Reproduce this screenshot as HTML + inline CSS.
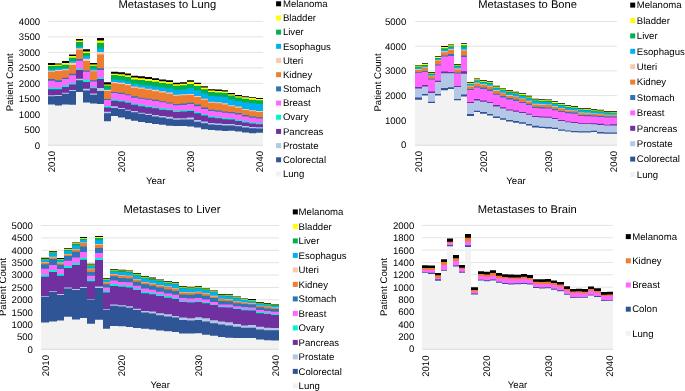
<!DOCTYPE html>
<html><head><meta charset="utf-8"><title>Metastases</title>
<style>
html,body{margin:0;padding:0;background:#fff;}
body{width:685px;height:391px;overflow:hidden;}
svg{display:block;font-family:"Liberation Sans",sans-serif;text-rendering:geometricPrecision;will-change:transform;}
.gl{stroke:#E3E3E3;stroke-width:1;}
.ax{stroke:#D9D9D9;stroke-width:1;}
.tk{font-size:9.6px;fill:#000;}
.lg{font-size:9.6px;fill:#000;}
.tt{font-size:11.2px;fill:#000;}
</style></head>
<body>
<svg width="685" height="391" viewBox="0 0 685 391">
<rect width="685" height="391" fill="#fff"/>
<line x1="48.3" y1="129.72" x2="263.13" y2="129.72" class="gl"/>
<line x1="48.3" y1="114.25" x2="263.13" y2="114.25" class="gl"/>
<line x1="48.3" y1="98.77" x2="263.13" y2="98.77" class="gl"/>
<line x1="48.3" y1="83.3" x2="263.13" y2="83.3" class="gl"/>
<line x1="48.3" y1="67.83" x2="263.13" y2="67.83" class="gl"/>
<line x1="48.3" y1="52.35" x2="263.13" y2="52.35" class="gl"/>
<line x1="48.3" y1="36.88" x2="263.13" y2="36.88" class="gl"/>
<line x1="48.3" y1="21.4" x2="263.13" y2="21.4" class="gl"/>
<text x="40.2" y="148.6" class="tk" text-anchor="end">0</text>
<text x="40.2" y="133.12" class="tk" text-anchor="end">500</text>
<text x="40.2" y="117.65" class="tk" text-anchor="end">1000</text>
<text x="40.2" y="102.17" class="tk" text-anchor="end">1500</text>
<text x="40.2" y="86.7" class="tk" text-anchor="end">2000</text>
<text x="40.2" y="71.23" class="tk" text-anchor="end">2500</text>
<text x="40.2" y="55.75" class="tk" text-anchor="end">3000</text>
<text x="40.2" y="40.27" class="tk" text-anchor="end">3500</text>
<text x="40.2" y="24.8" class="tk" text-anchor="end">4000</text>
<path d="M48,145 L48,63.1 55,63.1 55,63.4 62,63.4 62,61.1 69,61.1 69,54.4 76,54.4 76,38.9 83,38.9 83,49.3 90,49.3 90,63.1 97,63.1 97,38 104,38 104,82.2 111,82.2 111,71.7 118,71.7 118,72.2 125,72.2 125,73.5 131,73.5 131,75.8 138,75.8 138,76.3 145,76.3 145,77.1 152,77.1 152,78.2 159,78.2 159,79.4 166,79.4 166,80.2 173,80.2 173,82.7 180,82.7 180,82.2 187,82.2 187,80.2 194,80.2 194,82.7 201,82.7 201,86.3 208,86.3 208,89.2 215,89.2 215,89.6 222,89.6 222,90.2 228,90.2 228,93.1 235,93.1 235,95 242,95 242,96.3 249,96.3 249,97.2 256,97.2 256,98.1 263,98.1 L263,145 Z" fill="#000000"/>
<path d="M48,145 L48,65 55,65 55,64.5 62,64.5 62,62.9 69,62.9 69,56 76,56 76,40.6 83,40.6 83,51.4 90,51.4 90,64.5 97,64.5 97,40.6 104,40.6 104,84.4 111,84.4 111,73.8 118,73.8 118,74.3 125,74.3 125,75.3 131,75.3 131,77.6 138,77.6 138,78.2 145,78.2 145,78.9 152,78.9 152,79.9 159,79.9 159,81.2 166,81.2 166,82 173,82 173,84.3 180,84.3 180,83.8 187,83.8 187,81.7 194,81.7 194,84.1 201,84.1 201,87.6 208,87.6 208,90.6 215,90.6 215,90.9 222,90.9 222,91.4 228,91.4 228,94.3 235,94.3 235,96.2 242,96.2 242,97.2 249,97.2 249,98.1 256,98.1 256,99 263,99 L263,145 Z" fill="#FFFF00"/>
<path d="M48,145 L48,66 55,66 55,65.7 62,65.7 62,64.7 69,64.7 69,57.7 76,57.7 76,42.1 83,42.1 83,52.9 90,52.9 90,65.7 97,65.7 97,42.7 104,42.7 104,85.4 111,85.4 111,75.1 118,75.1 118,75.8 125,75.8 125,77.1 131,77.1 131,79.4 138,79.4 138,79.9 145,79.9 145,80.9 152,80.9 152,81.7 159,81.7 159,83 166,83 166,83.7 173,83.7 173,85.8 180,85.8 180,85.3 187,85.3 187,84.1 194,84.1 194,86.1 201,86.1 201,89.2 208,89.2 208,92 215,92 215,92.5 222,92.5 222,93 228,93 228,95.6 235,95.6 235,97.5 242,97.5 242,98.8 249,98.8 249,99.7 256,99.7 256,100.3 263,100.3 L263,145 Z" fill="#00B050"/>
<path d="M48,145 L48,69.3 55,69.3 55,68.2 62,68.2 62,67.9 69,67.9 69,61.1 76,61.1 76,46.7 83,46.7 83,56 90,56 90,68.8 97,68.8 97,48.8 104,48.8 104,89 111,89 111,79.6 118,79.6 118,80.2 125,80.2 125,81.4 131,81.4 131,83.7 138,83.7 138,84.7 145,84.7 145,85.5 152,85.5 152,86.6 159,86.6 159,87.6 166,87.6 166,88.4 173,88.4 173,89.9 180,89.9 180,89.6 187,89.6 187,88.2 194,88.2 194,90.6 201,90.6 201,93.5 208,93.5 208,96.1 215,96.1 215,96.4 222,96.4 222,97.1 228,97.1 228,99.5 235,99.5 235,101.3 242,101.3 242,102.5 249,102.5 249,103.3 256,103.3 256,104 263,104 L263,145 Z" fill="#00B0F0"/>
<path d="M48,145 L48,70.8 55,70.8 55,70 62,70 62,69.3 69,69.3 69,62.8 76,62.8 76,48.3 83,48.3 83,58.7 90,58.7 90,70.4 97,70.4 97,51.9 104,51.9 104,90 111,90 111,82 118,82 118,82.7 125,82.7 125,84 131,84 131,86.6 138,86.6 138,87.6 145,87.6 145,88.8 152,88.8 152,89.8 159,89.8 159,91.2 166,91.2 166,92.5 173,92.5 173,94.7 180,94.7 180,94.3 187,94.3 187,94 194,94 194,96 201,96 201,98.8 208,98.8 208,101.7 215,101.7 215,102.2 222,102.2 222,103.2 228,103.2 228,105.2 235,105.2 235,106.6 242,106.6 242,109.1 249,109.1 249,110.3 256,110.3 256,111.1 263,111.1 L263,145 Z" fill="#F8CBAD"/>
<path d="M48,145 L48,71.8 55,71.8 55,71 62,71 62,70.3 69,70.3 69,65 76,65 76,49.8 83,49.8 83,61.1 90,61.1 90,71.3 97,71.3 97,54.4 104,54.4 104,91.1 111,91.1 111,83.3 118,83.3 118,84 125,84 125,85.3 131,85.3 131,87.8 138,87.8 138,88.8 145,88.8 145,89.8 152,89.8 152,91.2 159,91.2 159,92.5 166,92.5 166,93.7 173,93.7 173,95.7 180,95.7 180,95.3 187,95.3 187,95 194,95 194,97.1 201,97.1 201,99.8 208,99.8 208,102.7 215,102.7 215,103.2 222,103.2 222,104.5 228,104.5 228,106.3 235,106.3 235,107.7 242,107.7 242,110.1 249,110.1 249,111.3 256,111.3 256,111.9 263,111.9 L263,145 Z" fill="#ED7D31"/>
<path d="M48,145 L48,79.1 55,79.1 55,80.3 62,80.3 62,77.8 69,77.8 69,73.7 76,73.7 76,59 83,59 83,70.5 90,70.5 90,80.3 97,80.3 97,68.3 104,68.3 104,99 111,99 111,91.9 118,91.9 118,92.7 125,92.7 125,94.2 131,94.2 131,96.3 138,96.3 138,97.8 145,97.8 145,98.8 152,98.8 152,99.7 159,99.7 159,101.3 166,101.3 166,102.5 173,102.5 173,103.9 180,103.9 180,103.5 187,103.5 187,102.7 194,102.7 194,104.5 201,104.5 201,107.5 208,107.5 208,109.7 215,109.7 215,110.4 222,110.4 222,111.4 228,111.4 228,112 235,112 235,113.1 242,113.1 242,115 249,115 249,116.5 256,116.5 256,117.2 263,117.2 L263,145 Z" fill="#2E75B6"/>
<path d="M48,145 L48,80.8 55,80.8 55,81.9 62,81.9 62,79.1 69,79.1 69,75.2 76,75.2 76,60.8 83,60.8 83,71.7 90,71.7 90,81.6 97,81.6 97,69.9 104,69.9 104,100 111,100 111,93.1 118,93.1 118,94.1 125,94.1 125,95.3 131,95.3 131,97.7 138,97.7 138,98.7 145,98.7 145,99.7 152,99.7 152,101 159,101 159,102.3 166,102.3 166,103.5 173,103.5 173,105.3 180,105.3 180,104.9 187,104.9 187,104.1 194,104.1 194,106.3 201,106.3 201,109 208,109 208,111 215,111 215,111.7 222,111.7 222,112.8 228,112.8 228,113.3 235,113.3 235,114.6 242,114.6 242,116.5 249,116.5 249,117.7 256,117.7 256,118.4 263,118.4 L263,145 Z" fill="#FF66FF"/>
<path d="M48,145 L48,87.5 55,87.5 55,87.7 62,87.7 62,85.2 69,85.2 69,82.9 76,82.9 76,68.7 83,68.7 83,79.8 90,79.8 90,87 97,87 97,77.5 104,77.5 104,105.9 111,105.9 111,99.2 118,99.2 118,100.2 125,100.2 125,101.5 131,101.5 131,103.5 138,103.5 138,104.8 145,104.8 145,105.9 152,105.9 152,106.9 159,106.9 159,108.2 166,108.2 166,108.9 173,108.9 173,110.7 180,110.7 180,110.2 187,110.2 187,109.7 194,109.7 194,112.1 201,112.1 201,114.3 208,114.3 208,116.2 215,116.2 215,116.9 222,116.9 222,117.9 228,117.9 228,118.2 235,118.2 235,119.7 242,119.7 242,120.9 249,120.9 249,122.4 256,122.4 256,123 263,123 L263,145 Z" fill="#00F5CC"/>
<path d="M48,145 L48,89.3 55,89.3 55,89.3 62,89.3 62,87 69,87 69,84.4 76,84.4 76,70.1 83,70.1 83,81.9 90,81.9 90,88.3 97,88.3 97,79.1 104,79.1 104,107.6 111,107.6 111,100.7 118,100.7 118,101.5 125,101.5 125,102.8 131,102.8 131,104.8 138,104.8 138,106.2 145,106.2 145,107.2 152,107.2 152,108.2 159,108.2 159,109.7 166,109.7 166,110.3 173,110.3 173,112.1 180,112.1 180,111.5 187,111.5 187,111.1 194,111.1 194,113.3 201,113.3 201,115.6 208,115.6 208,117.4 215,117.4 215,118.2 222,118.2 222,119.2 228,119.2 228,119.5 235,119.5 235,121 242,121 242,122.4 249,122.4 249,123.6 256,123.6 256,124.2 263,124.2 L263,145 Z" fill="#7030A0"/>
<path d="M48,145 L48,95.2 55,95.2 55,94.9 62,94.9 62,92.8 69,92.8 69,90.1 76,90.1 76,78.8 83,78.8 83,88.7 90,88.7 90,93.4 97,93.4 97,88 104,88 104,111.7 111,111.7 111,106.2 118,106.2 118,107.9 125,107.9 125,109.7 131,109.7 131,111 138,111 138,112.7 145,112.7 145,113.7 152,113.7 152,115.1 159,115.1 159,116.1 166,116.1 166,116.8 173,116.8 173,118.2 180,118.2 180,118.2 187,118.2 187,117.6 194,117.6 194,120 201,120 201,121.5 208,121.5 208,123 215,123 215,123.5 222,123.5 222,124 228,124 228,124.1 235,124.1 235,124.9 242,124.9 242,126.1 249,126.1 249,127 256,127 256,127.3 263,127.3 L263,145 Z" fill="#B4C7E7"/>
<path d="M48,145 L48,96.2 55,96.2 55,95.9 62,95.9 62,93.8 69,93.8 69,91.1 76,91.1 76,80.3 83,80.3 83,90.6 90,90.6 90,94.7 97,94.7 97,91.1 104,91.1 104,113.3 111,113.3 111,107.9 118,107.9 118,108.9 125,108.9 125,110.7 131,110.7 131,112.3 138,112.3 138,113.7 145,113.7 145,115.1 152,115.1 152,116.4 159,116.4 159,117.6 166,117.6 166,118.7 173,118.7 173,119.7 180,119.7 180,119.4 187,119.4 187,119.4 194,119.4 194,121.7 201,121.7 201,123.3 208,123.3 208,124.6 215,124.6 215,125.1 222,125.1 222,125.6 228,125.6 228,125.5 235,125.5 235,126.3 242,126.3 242,127.5 249,127.5 249,128.3 256,128.3 256,128.5 263,128.5 L263,145 Z" fill="#2F5597"/>
<path d="M48,145 L48,104.4 55,104.4 55,105.4 62,105.4 62,104.4 69,104.4 69,104.7 76,104.7 76,92.1 83,92.1 83,102.6 90,102.6 90,103.4 97,103.4 97,104.1 104,104.1 104,121.2 111,121.2 111,116.1 118,116.1 118,117.4 125,117.4 125,119.2 131,119.2 131,120.7 138,120.7 138,121.9 145,121.9 145,123 152,123 152,124 159,124 159,124.8 166,124.8 166,125.8 173,125.8 173,126.1 180,126.1 180,126.1 187,126.1 187,126.4 194,126.4 194,127.6 201,127.6 201,129.2 208,129.2 208,129.9 215,129.9 215,130.5 222,130.5 222,130.9 228,130.9 228,130.8 235,130.8 235,131.4 242,131.4 242,132.4 249,132.4 249,133.2 256,133.2 256,132.8 263,132.8 L263,145 Z" fill="#F2F2F2"/>
<rect x="48" y="144.7" width="215" height="1.3" fill="#E2E2E2"/>
<text transform="translate(51.77,150.9) rotate(-90)" class="tk" text-anchor="end" dy="3.5">2010</text>
<text transform="translate(121.06,150.9) rotate(-90)" class="tk" text-anchor="end" dy="3.5">2020</text>
<text transform="translate(190.37,150.9) rotate(-90)" class="tk" text-anchor="end" dy="3.5">2030</text>
<text transform="translate(259.66,150.9) rotate(-90)" class="tk" text-anchor="end" dy="3.5">2040</text>
<text x="155.7" y="183.7" class="tk" text-anchor="middle">Year</text>
<text transform="translate(13.4,82.3) rotate(-90)" class="lg" text-anchor="middle">Patient Count</text>
<text x="167.3" y="8.4" class="tt" text-anchor="middle">Metastases to Lung</text>
<rect x="276.1" y="1.3" width="5" height="5" fill="#000000"/>
<text x="282.9" y="7" class="lg">Melanoma</text>
<rect x="276.1" y="15.48" width="5" height="5" fill="#FFFF00"/>
<text x="282.9" y="21.18" class="lg">Bladder</text>
<rect x="276.1" y="29.66" width="5" height="5" fill="#00B050"/>
<text x="282.9" y="35.36" class="lg">Liver</text>
<rect x="276.1" y="43.84" width="5" height="5" fill="#00B0F0"/>
<text x="282.9" y="49.54" class="lg">Esophagus</text>
<rect x="276.1" y="58.02" width="5" height="5" fill="#F8CBAD"/>
<text x="282.9" y="63.72" class="lg">Uteri</text>
<rect x="276.1" y="72.2" width="5" height="5" fill="#ED7D31"/>
<text x="282.9" y="77.9" class="lg">Kidney</text>
<rect x="276.1" y="86.38" width="5" height="5" fill="#2E75B6"/>
<text x="282.9" y="92.08" class="lg">Stomach</text>
<rect x="276.1" y="100.56" width="5" height="5" fill="#FF66FF"/>
<text x="282.9" y="106.26" class="lg">Breast</text>
<rect x="276.1" y="114.74" width="5" height="5" fill="#00F5CC"/>
<text x="282.9" y="120.44" class="lg">Ovary</text>
<rect x="276.1" y="128.92" width="5" height="5" fill="#7030A0"/>
<text x="282.9" y="134.62" class="lg">Pancreas</text>
<rect x="276.1" y="143.1" width="5" height="5" fill="#B4C7E7"/>
<text x="282.9" y="148.8" class="lg">Prostate</text>
<rect x="276.1" y="157.28" width="5" height="5" fill="#2F5597"/>
<text x="282.9" y="162.98" class="lg">Colorectal</text>
<rect x="276.1" y="171.46" width="5" height="5" fill="#F2F2F2"/>
<text x="282.9" y="177.16" class="lg">Lung</text>
<line x1="415.2" y1="120.3" x2="616.92" y2="120.3" class="gl"/>
<line x1="415.2" y1="95.6" x2="616.92" y2="95.6" class="gl"/>
<line x1="415.2" y1="70.9" x2="616.92" y2="70.9" class="gl"/>
<line x1="415.2" y1="46.2" x2="616.92" y2="46.2" class="gl"/>
<line x1="415.2" y1="21.5" x2="616.92" y2="21.5" class="gl"/>
<text x="406.3" y="148.4" class="tk" text-anchor="end">0</text>
<text x="406.3" y="123.7" class="tk" text-anchor="end">1000</text>
<text x="406.3" y="99" class="tk" text-anchor="end">2000</text>
<text x="406.3" y="74.3" class="tk" text-anchor="end">3000</text>
<text x="406.3" y="49.6" class="tk" text-anchor="end">4000</text>
<text x="406.3" y="24.9" class="tk" text-anchor="end">5000</text>
<path d="M415,145 L415,64.9 422,64.9 422,63.3 428,63.3 428,72 435,72 435,56.2 441,56.2 441,46.1 448,46.1 448,44.6 454,44.6 454,64 461,64 461,43.3 467,43.3 467,82.2 474,82.2 474,78.4 480,78.4 480,80 487,80 487,81.2 493,81.2 493,85.8 500,85.8 500,87.9 506,87.9 506,90.2 513,90.2 513,91.7 519,91.7 519,93.3 526,93.3 526,95.7 532,95.7 532,98.8 539,98.8 539,99.2 545,99.2 545,99.4 552,99.4 552,101.2 558,101.2 558,103.3 565,103.3 565,105.3 571,105.3 571,106.1 578,106.1 578,108.2 584,108.2 584,108.2 591,108.2 591,108.9 597,108.9 597,109.7 604,109.7 604,111 610,111 610,111 617,111 L617,145 Z" fill="#000000"/>
<path d="M415,145 L415,65.6 422,65.6 422,64 428,64 428,72.8 435,72.8 435,56.9 441,56.9 441,47 448,47 448,45.3 454,45.3 454,64.8 461,64.8 461,44.1 467,44.1 467,83.1 474,83.1 474,79.3 480,79.3 480,80.7 487,80.7 487,81.9 493,81.9 493,86.5 500,86.5 500,88.6 506,88.6 506,91.2 513,91.2 513,92.5 519,92.5 519,94 526,94 526,96.6 532,96.6 532,99.4 539,99.4 539,100 545,100 545,100.2 552,100.2 552,102 558,102 558,104.1 565,104.1 565,106.1 571,106.1 571,106.8 578,106.8 578,108.9 584,108.9 584,109 591,109 591,109.7 597,109.7 597,110.4 604,110.4 604,111.8 610,111.8 610,111.8 617,111.8 L617,145 Z" fill="#FFFF00"/>
<path d="M415,145 L415,66.4 422,66.4 422,65.1 428,65.1 428,73.6 435,73.6 435,57.9 441,57.9 441,48.2 448,48.2 448,46.3 454,46.3 454,65.6 461,65.6 461,45.3 467,45.3 467,83.8 474,83.8 474,80.2 480,80.2 480,81.7 487,81.7 487,82.7 493,82.7 493,87.6 500,87.6 500,89.6 506,89.6 506,92 513,92 513,93.3 519,93.3 519,95 526,95 526,97.4 532,97.4 532,100.2 539,100.2 539,100.7 545,100.7 545,101 552,101 552,103.1 558,103.1 558,104.8 565,104.8 565,106.8 571,106.8 571,107.6 578,107.6 578,109.6 584,109.6 584,109.7 591,109.7 591,110.4 597,110.4 597,111.3 604,111.3 604,112.3 610,112.3 610,112.5 617,112.5 L617,145 Z" fill="#00B050"/>
<path d="M415,145 L415,67.6 422,67.6 422,66.1 428,66.1 428,74.8 435,74.8 435,58.9 441,58.9 441,49.7 448,49.7 448,47.7 454,47.7 454,66.8 461,66.8 461,47.4 467,47.4 467,84.5 474,84.5 474,81.3 480,81.3 480,82.7 487,82.7 487,84.1 493,84.1 493,88.6 500,88.6 500,90.6 506,90.6 506,93.3 513,93.3 513,94.3 519,94.3 519,96.1 526,96.1 526,98.4 532,98.4 532,101.3 539,101.3 539,102 545,102 545,102.2 552,102.2 552,104.1 558,104.1 558,105.8 565,105.8 565,107.9 571,107.9 571,108.6 578,108.6 578,110.6 584,110.6 584,110.7 591,110.7 591,111.5 597,111.5 597,112.3 604,112.3 604,113.3 610,113.3 610,113.3 617,113.3 L617,145 Z" fill="#00B0F0"/>
<path d="M415,145 L415,69 422,69 422,67.1 428,67.1 428,75.8 435,75.8 435,60 441,60 441,51.3 448,51.3 448,49 454,49 454,68.5 461,68.5 461,49.7 467,49.7 467,85.8 474,85.8 474,82.8 480,82.8 480,84.3 487,84.3 487,85.8 493,85.8 493,90.2 500,90.2 500,92.7 506,92.7 506,95 513,95 513,96.4 519,96.4 519,98.4 526,98.4 526,100.7 532,100.7 532,103.8 539,103.8 539,104.3 545,104.3 545,104.5 552,104.5 552,106.3 558,106.3 558,107.9 565,107.9 565,109.9 571,109.9 571,110.4 578,110.4 578,112.5 584,112.5 584,112.8 591,112.8 591,113.4 597,113.4 597,113.8 604,113.8 604,114.8 610,114.8 610,114.8 617,114.8 L617,145 Z" fill="#F8CBAD"/>
<path d="M415,145 L415,69.7 422,69.7 422,67.6 428,67.6 428,76.3 435,76.3 435,60.5 441,60.5 441,52.3 448,52.3 448,49.7 454,49.7 454,69.5 461,69.5 461,50.4 467,50.4 467,86.5 474,86.5 474,83.6 480,83.6 480,85.1 487,85.1 487,86.5 493,86.5 493,90.9 500,90.9 500,93.3 506,93.3 506,95.7 513,95.7 513,97.1 519,97.1 519,99.1 526,99.1 526,101.5 532,101.5 532,104.5 539,104.5 539,105.1 545,105.1 545,105.1 552,105.1 552,107.1 558,107.1 558,108.6 565,108.6 565,110.4 571,110.4 571,110.9 578,110.9 578,113.3 584,113.3 584,113.5 591,113.5 591,114.1 597,114.1 597,114.3 604,114.3 604,115.3 610,115.3 610,115.3 617,115.3 L617,145 Z" fill="#ED7D31"/>
<path d="M415,145 L415,72.2 422,72.2 422,70.9 428,70.9 428,78.8 435,78.8 435,64.6 441,64.6 441,55.6 448,55.6 448,54.1 454,54.1 454,72.6 461,72.6 461,55.6 467,55.6 467,89.1 474,89.1 474,86.4 480,86.4 480,87.6 487,87.6 487,89.6 493,89.6 493,93.7 500,93.7 500,96 506,96 506,98.1 513,98.1 513,99.6 519,99.6 519,101.9 526,101.9 526,103.7 532,103.7 532,106.8 539,106.8 539,107.1 545,107.1 545,107.4 552,107.4 552,108.9 558,108.9 558,110.9 565,110.9 565,112 571,112 571,112.5 578,112.5 578,115 584,115 584,115.1 591,115.1 591,115.5 597,115.5 597,115.9 604,115.9 604,116.6 610,116.6 610,116.6 617,116.6 L617,145 Z" fill="#2E75B6"/>
<path d="M415,145 L415,73 422,73 422,71.9 428,71.9 428,79.5 435,79.5 435,65.6 441,65.6 441,56.6 448,56.6 448,55.9 454,55.9 454,73.6 461,73.6 461,56.9 467,56.9 467,90.1 474,90.1 474,87.6 480,87.6 480,88.9 487,88.9 487,90.9 493,90.9 493,94.7 500,94.7 500,97.4 506,97.4 506,99.4 513,99.4 513,100.9 519,100.9 519,102.9 526,102.9 526,105 532,105 532,107.9 539,107.9 539,108.4 545,108.4 545,108.4 552,108.4 552,110.2 558,110.2 558,112 565,112 565,113.3 571,113.3 571,113.7 578,113.7 578,116.1 584,116.1 584,116.2 591,116.2 591,116.5 597,116.5 597,116.9 604,116.9 604,117.6 610,117.6 610,117.4 617,117.4 L617,145 Z" fill="#FF66FF"/>
<path d="M415,145 L415,86.9 422,86.9 422,85.1 428,85.1 428,91.5 435,91.5 435,80.7 441,80.7 441,71.4 448,71.4 448,72 454,72 454,85.9 461,85.9 461,71.2 467,71.2 467,102 474,102 474,99.1 480,99.1 480,100.5 487,100.5 487,101.9 493,101.9 493,105 500,105 500,107.3 506,107.3 506,109.4 513,109.4 513,110.4 519,110.4 519,112.1 526,112.1 526,113.8 532,113.8 532,116.1 539,116.1 539,116.6 545,116.6 545,116.8 552,116.8 552,118.1 558,118.1 558,120.1 565,120.1 565,121.5 571,121.5 571,121.9 578,121.9 578,123.2 584,123.2 584,123.3 591,123.3 591,123.3 597,123.3 597,123.7 604,123.7 604,124.8 610,124.8 610,124.3 617,124.3 L617,145 Z" fill="#7030A0"/>
<path d="M415,145 L415,88.6 422,88.6 422,86.6 428,86.6 428,93 435,93 435,82.1 441,82.1 441,73.2 448,73.2 448,73.3 454,73.3 454,86.9 461,86.9 461,73.7 467,73.7 467,102.9 474,102.9 474,100.6 480,100.6 480,101.7 487,101.7 487,103.1 493,103.1 493,106.5 500,106.5 500,108.5 506,108.5 506,110.5 513,110.5 513,111.7 519,111.7 519,113.1 526,113.1 526,114.8 532,114.8 532,117.1 539,117.1 539,117.5 545,117.5 545,117.8 552,117.8 552,119.1 558,119.1 558,121.1 565,121.1 565,122.3 571,122.3 571,122.9 578,122.9 578,123.9 584,123.9 584,124 591,124 591,124.3 597,124.3 597,124.9 604,124.9 604,125.6 610,125.6 610,125.4 617,125.4 L617,145 Z" fill="#B4C7E7"/>
<path d="M415,145 L415,97.4 422,97.4 422,94.1 428,94.1 428,101.7 435,101.7 435,94.1 441,94.1 441,87.9 448,87.9 448,87.2 454,87.2 454,98.9 461,98.9 461,94.6 467,94.6 467,114.1 474,114.1 474,110.7 480,110.7 480,112.1 487,112.1 487,114.1 493,114.1 493,116.4 500,116.4 500,118.2 506,118.2 506,120 513,120 513,121 519,121 519,122.3 526,122.3 526,124 532,124 532,125.8 539,125.8 539,126.8 545,126.8 545,127.1 552,127.1 552,127.7 558,127.7 558,129.6 565,129.6 565,130.5 571,130.5 571,131 578,131 578,131.2 584,131.2 584,131.3 591,131.3 591,130.8 597,130.8 597,132.1 604,132.1 604,132.5 610,132.5 610,132.5 617,132.5 L617,145 Z" fill="#2F5597"/>
<path d="M415,145 L415,99.7 422,99.7 422,95.6 428,95.6 428,103 435,103 435,95.6 441,95.6 441,90.3 448,90.3 448,88.9 454,88.9 454,100.2 461,100.2 461,96.4 467,96.4 467,115.9 474,115.9 474,112.1 480,112.1 480,113.8 487,113.8 487,115.6 493,115.6 493,117.9 500,117.9 500,119.7 506,119.7 506,121.5 513,121.5 513,122.7 519,122.7 519,123.7 526,123.7 526,125.4 532,125.4 532,127.4 539,127.4 539,128 545,128 545,128.4 552,128.4 552,129 558,129 558,130.8 565,130.8 565,131.6 571,131.6 571,132.3 578,132.3 578,132.5 584,132.5 584,132.6 591,132.6 591,132.1 597,132.1 597,133.5 604,133.5 604,133.8 610,133.8 610,133.8 617,133.8 L617,145 Z" fill="#F2F2F2"/>
<rect x="415" y="144.7" width="202" height="1.3" fill="#E2E2E2"/>
<text transform="translate(418.45,150.8) rotate(-90)" class="tk" text-anchor="end" dy="3.5">2010</text>
<text transform="translate(483.52,150.8) rotate(-90)" class="tk" text-anchor="end" dy="3.5">2020</text>
<text transform="translate(548.59,150.8) rotate(-90)" class="tk" text-anchor="end" dy="3.5">2030</text>
<text transform="translate(613.66,150.8) rotate(-90)" class="tk" text-anchor="end" dy="3.5">2040</text>
<text x="516" y="184" class="tk" text-anchor="middle">Year</text>
<text transform="translate(380.7,82.5) rotate(-90)" class="lg" text-anchor="middle">Patient Count</text>
<text x="527.6" y="8.4" class="tt" text-anchor="middle">Metastases to Bone</text>
<rect x="630.2" y="2.6" width="5" height="5" fill="#000000"/>
<text x="636.8" y="8.3" class="lg">Melanoma</text>
<rect x="630.2" y="18" width="5" height="5" fill="#FFFF00"/>
<text x="636.8" y="23.7" class="lg">Bladder</text>
<rect x="630.2" y="33.4" width="5" height="5" fill="#00B050"/>
<text x="636.8" y="39.1" class="lg">Liver</text>
<rect x="630.2" y="48.8" width="5" height="5" fill="#00B0F0"/>
<text x="636.8" y="54.5" class="lg">Esophagus</text>
<rect x="630.2" y="64.2" width="5" height="5" fill="#F8CBAD"/>
<text x="636.8" y="69.9" class="lg">Uteri</text>
<rect x="630.2" y="79.6" width="5" height="5" fill="#ED7D31"/>
<text x="636.8" y="85.3" class="lg">Kidney</text>
<rect x="630.2" y="95" width="5" height="5" fill="#2E75B6"/>
<text x="636.8" y="100.7" class="lg">Stomach</text>
<rect x="630.2" y="110.4" width="5" height="5" fill="#FF66FF"/>
<text x="636.8" y="116.1" class="lg">Breast</text>
<rect x="630.2" y="125.8" width="5" height="5" fill="#7030A0"/>
<text x="636.8" y="131.5" class="lg">Pancreas</text>
<rect x="630.2" y="141.2" width="5" height="5" fill="#B4C7E7"/>
<text x="636.8" y="146.9" class="lg">Prostate</text>
<rect x="630.2" y="156.6" width="5" height="5" fill="#2F5597"/>
<text x="636.8" y="162.3" class="lg">Colorectal</text>
<rect x="630.2" y="172" width="5" height="5" fill="#F2F2F2"/>
<text x="636.8" y="177.7" class="lg">Lung</text>
<line x1="41.3" y1="337.01" x2="279.01" y2="337.01" class="gl"/>
<line x1="41.3" y1="324.62" x2="279.01" y2="324.62" class="gl"/>
<line x1="41.3" y1="312.23" x2="279.01" y2="312.23" class="gl"/>
<line x1="41.3" y1="299.84" x2="279.01" y2="299.84" class="gl"/>
<line x1="41.3" y1="287.45" x2="279.01" y2="287.45" class="gl"/>
<line x1="41.3" y1="275.06" x2="279.01" y2="275.06" class="gl"/>
<line x1="41.3" y1="262.67" x2="279.01" y2="262.67" class="gl"/>
<line x1="41.3" y1="250.28" x2="279.01" y2="250.28" class="gl"/>
<line x1="41.3" y1="237.89" x2="279.01" y2="237.89" class="gl"/>
<line x1="41.3" y1="225.5" x2="279.01" y2="225.5" class="gl"/>
<text x="32.9" y="352.8" class="tk" text-anchor="end">0</text>
<text x="32.9" y="340.41" class="tk" text-anchor="end">500</text>
<text x="32.9" y="328.02" class="tk" text-anchor="end">1000</text>
<text x="32.9" y="315.63" class="tk" text-anchor="end">1500</text>
<text x="32.9" y="303.24" class="tk" text-anchor="end">2000</text>
<text x="32.9" y="290.85" class="tk" text-anchor="end">2500</text>
<text x="32.9" y="278.46" class="tk" text-anchor="end">3000</text>
<text x="32.9" y="266.07" class="tk" text-anchor="end">3500</text>
<text x="32.9" y="253.68" class="tk" text-anchor="end">4000</text>
<text x="32.9" y="241.29" class="tk" text-anchor="end">4500</text>
<text x="32.9" y="228.9" class="tk" text-anchor="end">5000</text>
<path d="M41,349 L41,257.8 49,257.8 49,251 57,251 57,258.1 64,258.1 64,248.2 72,248.2 72,242.5 80,242.5 80,237 87,237 87,263.8 95,263.8 95,236.1 103,236.1 103,278.2 110,278.2 110,269 118,269 118,269.7 126,269.7 126,270.4 133,270.4 133,273.1 141,273.1 141,276.1 149,276.1 149,277.6 156,277.6 156,279.4 164,279.4 164,281.2 172,281.2 172,282.2 179,282.2 179,286.1 187,286.1 187,286.8 195,286.8 195,286.1 202,286.1 202,287.9 210,287.9 210,290.6 218,290.6 218,294 225,294 225,294.3 233,294.3 233,296.6 241,296.6 241,298.4 248,298.4 248,299.1 256,299.1 256,302.1 264,302.1 264,303.1 271,303.1 271,304 279,304 L279,349 Z" fill="#000000"/>
<path d="M41,349 L41,258.7 49,258.7 49,251.7 57,251.7 57,258.9 64,258.9 64,248.9 72,248.9 72,243.3 80,243.3 80,238 87,238 87,264.6 95,264.6 95,237 103,237 103,278.9 110,278.9 110,269.7 118,269.7 118,270.4 126,270.4 126,271.2 133,271.2 133,273.8 141,273.8 141,276.8 149,276.8 149,278.4 156,278.4 156,280.2 164,280.2 164,282 172,282 172,283 179,283 179,286.8 187,286.8 187,287.6 195,287.6 195,286.8 202,286.8 202,288.6 210,288.6 210,291.2 218,291.2 218,294.7 225,294.7 225,295 233,295 233,297.2 241,297.2 241,299.1 248,299.1 248,299.9 256,299.9 256,302.8 264,302.8 264,303.8 271,303.8 271,304.6 279,304.6 L279,349 Z" fill="#FFFF00"/>
<path d="M41,349 L41,259.2 49,259.2 49,252.3 57,252.3 57,259.5 64,259.5 64,249.7 72,249.7 72,244.1 80,244.1 80,238.7 87,238.7 87,265.3 95,265.3 95,238 103,238 103,279.5 110,279.5 110,270.4 118,270.4 118,271 126,271 126,271.7 133,271.7 133,274.5 141,274.5 141,277.6 149,277.6 149,278.9 156,278.9 156,280.6 164,280.6 164,282.5 172,282.5 172,283.5 179,283.5 179,287.4 187,287.4 187,288.2 195,288.2 195,287.5 202,287.5 202,289.2 210,289.2 210,291.7 218,291.7 218,295.3 225,295.3 225,295.6 233,295.6 233,297.7 241,297.7 241,299.6 248,299.6 248,300.4 256,300.4 256,303.3 264,303.3 264,304.3 271,304.3 271,305 279,305 L279,349 Z" fill="#00B050"/>
<path d="M41,349 L41,259.9 49,259.9 49,253.3 57,253.3 57,260.5 64,260.5 64,251 72,251 72,245.6 80,245.6 80,239.7 87,239.7 87,266.3 95,266.3 95,240.2 103,240.2 103,280.2 110,280.2 110,271.4 118,271.4 118,272 126,272 126,272.7 133,272.7 133,275.5 141,275.5 141,278.6 149,278.6 149,279.9 156,279.9 156,281.7 164,281.7 164,283.5 172,283.5 172,284.4 179,284.4 179,288.4 187,288.4 187,288.9 195,288.9 195,288.4 202,288.4 202,290.2 210,290.2 210,292.3 218,292.3 218,296.1 225,296.1 225,296.4 233,296.4 233,298.4 241,298.4 241,300.1 248,300.1 248,301 256,301 256,304 264,304 264,305 271,305 271,305.8 279,305.8 L279,349 Z" fill="#00B0F0"/>
<path d="M41,349 L41,261.9 49,261.9 49,256.8 57,256.8 57,262.5 64,262.5 64,254.1 72,254.1 72,248.9 80,248.9 80,242.5 87,242.5 87,268.7 95,268.7 95,244.1 103,244.1 103,282.3 110,282.3 110,274.1 118,274.1 118,275.3 126,275.3 126,275.8 133,275.8 133,278.9 141,278.9 141,282 149,282 149,283.3 156,283.3 156,285 164,285 164,286.6 172,286.6 172,288.3 179,288.3 179,292 187,292 187,292.3 195,292.3 195,291.7 202,291.7 202,293.3 210,293.3 210,295.7 218,295.7 218,298.8 225,298.8 225,299.1 233,299.1 233,301.2 241,301.2 241,302.5 248,302.5 248,303.1 256,303.1 256,305.8 264,305.8 264,306.5 271,306.5 271,307.6 279,307.6 L279,349 Z" fill="#F8CBAD"/>
<path d="M41,349 L41,262.5 49,262.5 49,257.4 57,257.4 57,263.3 64,263.3 64,254.6 72,254.6 72,249.4 80,249.4 80,243.1 87,243.1 87,269.2 95,269.2 95,244.8 103,244.8 103,282.5 110,282.5 110,274.5 118,274.5 118,275.8 126,275.8 126,276.3 133,276.3 133,279.4 141,279.4 141,282.5 149,282.5 149,283.7 156,283.7 156,285.5 164,285.5 164,287.1 172,287.1 172,288.7 179,288.7 179,292.5 187,292.5 187,292.7 195,292.7 195,292.3 202,292.3 202,293.7 210,293.7 210,296.4 218,296.4 218,299.1 225,299.1 225,299.4 233,299.4 233,301.5 241,301.5 241,302.8 248,302.8 248,303.4 256,303.4 256,306 264,306 264,306.8 271,306.8 271,307.9 279,307.9 L279,349 Z" fill="#ED7D31"/>
<path d="M41,349 L41,264.2 49,264.2 49,258.9 57,258.9 57,264.8 64,264.8 64,256.1 72,256.1 72,251.7 80,251.7 80,246.4 87,246.4 87,272 95,272 95,247.9 103,247.9 103,284.2 110,284.2 110,276.3 118,276.3 118,277.9 126,277.9 126,278.6 133,278.6 133,281.7 141,281.7 141,284.3 149,284.3 149,285.7 156,285.7 156,287.6 164,287.6 164,289.4 172,289.4 172,290.9 179,290.9 179,294.5 187,294.5 187,294.7 195,294.7 195,294 202,294 202,295.7 210,295.7 210,298.1 218,298.1 218,300.9 225,300.9 225,301.2 233,301.2 233,303.2 241,303.2 241,304 248,304 248,304.6 256,304.6 256,307.3 264,307.3 264,308.4 271,308.4 271,309 279,309 L279,349 Z" fill="#2E75B6"/>
<path d="M41,349 L41,268.8 49,268.8 49,264.9 57,264.9 57,269 64,269 64,260.7 72,260.7 72,257.6 80,257.6 80,252 87,252 87,275.8 95,275.8 95,253 103,253 103,287.6 110,287.6 110,280.6 118,280.6 118,282 126,282 126,282.3 133,282.3 133,285.7 141,285.7 141,288.4 149,288.4 149,289.8 156,289.8 156,291.7 164,291.7 164,293.5 172,293.5 172,294.8 179,294.8 179,298.1 187,298.1 187,298.4 195,298.4 195,298.1 202,298.1 202,299.4 210,299.4 210,301.9 218,301.9 218,304.5 225,304.5 225,304.5 233,304.5 233,306.3 241,306.3 241,307 248,307 248,307.6 256,307.6 256,309.9 264,309.9 264,311 271,311 271,311.7 279,311.7 L279,349 Z" fill="#FF66FF"/>
<path d="M41,349 L41,274.8 49,274.8 49,270 57,270 57,274.1 64,274.1 64,266 72,266 72,263 80,263 80,257.8 87,257.8 87,279.6 95,279.6 95,258.1 103,258.1 103,291 110,291 110,284 118,284 118,285.3 126,285.3 126,285.7 133,285.7 133,288.8 141,288.8 141,291.7 149,291.7 149,292.7 156,292.7 156,294.5 164,294.5 164,296.3 172,296.3 172,297.7 179,297.7 179,300.9 187,300.9 187,301.5 195,301.5 195,300.9 202,300.9 202,302.2 210,302.2 210,304.5 218,304.5 218,306.6 225,306.6 225,306.8 233,306.8 233,308.3 241,308.3 241,309 248,309 248,309.5 256,309.5 256,312 264,312 264,312.9 271,312.9 271,313.9 279,313.9 L279,349 Z" fill="#00F5CC"/>
<path d="M41,349 L41,276.8 49,276.8 49,272 57,272 57,275.8 64,275.8 64,267.9 72,267.9 72,264.9 80,264.9 80,259.7 87,259.7 87,281.2 95,281.2 95,259.9 103,259.9 103,292.5 110,292.5 110,286.1 118,286.1 118,286.8 126,286.8 126,287.4 133,287.4 133,290.1 141,290.1 141,293.2 149,293.2 149,294.2 156,294.2 156,296 164,296 164,297.8 172,297.8 172,299 179,299 179,301.9 187,301.9 187,302.5 195,302.5 195,301.9 202,301.9 202,303.2 210,303.2 210,305 218,305 218,307.2 225,307.2 225,307.6 233,307.6 233,309 241,309 241,310.2 248,310.2 248,310.5 256,310.5 256,313.2 264,313.2 264,313.9 271,313.9 271,315 279,315 L279,349 Z" fill="#7030A0"/>
<path d="M41,349 L41,296 49,296 49,291.2 57,291.2 57,293.9 64,293.9 64,287.6 72,287.6 72,289.1 80,289.1 80,287.1 87,287.1 87,298.9 95,298.9 95,286.6 103,286.6 103,309.1 110,309.1 110,304.4 118,304.4 118,305.2 126,305.2 126,306.3 133,306.3 133,308.8 141,308.8 141,310.9 149,310.9 149,311.6 156,311.6 156,313.2 164,313.2 164,314.2 172,314.2 172,315.9 179,315.9 179,317.6 187,317.6 187,318.2 195,318.2 195,317.2 202,317.2 202,318.2 210,318.2 210,320.3 218,320.3 218,321.5 225,321.5 225,322.3 233,322.3 233,324 241,324 241,325.4 248,325.4 248,325.1 256,325.1 256,326.8 264,326.8 264,327.7 271,327.7 271,328 279,328 L279,349 Z" fill="#B4C7E7"/>
<path d="M41,349 L41,296.8 49,296.8 49,291.9 57,291.9 57,295 64,295 64,288.4 72,288.4 72,290.1 80,290.1 80,288.1 87,288.1 87,299.6 95,299.6 95,288.1 103,288.1 103,309.8 110,309.8 110,305.7 118,305.7 118,306.5 126,306.5 126,307.8 133,307.8 133,310.1 141,310.1 141,312.6 149,312.6 149,313.4 156,313.4 156,315.3 164,315.3 164,316.5 172,316.5 172,317.6 179,317.6 179,320 187,320 187,320.5 195,320.5 195,320 202,320 202,321.5 210,321.5 210,323.3 218,323.3 218,324.6 225,324.6 225,325.6 233,325.6 233,326.8 241,326.8 241,327.7 248,327.7 248,327.7 256,327.7 256,329.5 264,329.5 264,330.3 271,330.3 271,330.3 279,330.3 L279,349 Z" fill="#2F5597"/>
<path d="M41,349 L41,322.6 49,322.6 49,321.6 57,321.6 57,320.6 64,320.6 64,316.7 72,316.7 72,319.4 80,319.4 80,318 87,318 87,323.7 95,323.7 95,319.8 103,319.8 103,328.8 110,328.8 110,325.9 118,325.9 118,326.2 126,326.2 126,326.9 133,326.9 133,328 141,328 141,328.8 149,328.8 149,329.6 156,329.6 156,330.6 164,330.6 164,331.3 172,331.3 172,331.9 179,331.9 179,333.6 187,333.6 187,333.6 195,333.6 195,333.3 202,333.3 202,334.8 210,334.8 210,335.8 218,335.8 218,337.1 225,337.1 225,337.7 233,337.7 233,338.1 241,338.1 241,338.1 248,338.1 248,338.1 256,338.1 256,339.6 264,339.6 264,340.2 271,340.2 271,340.6 279,340.6 L279,349 Z" fill="#F2F2F2"/>
<rect x="41" y="348.7" width="238" height="1.3" fill="#E2E2E2"/>
<text transform="translate(45.13,355) rotate(-90)" class="tk" text-anchor="end" dy="3.5">2010</text>
<text transform="translate(121.81,355) rotate(-90)" class="tk" text-anchor="end" dy="3.5">2020</text>
<text transform="translate(198.49,355) rotate(-90)" class="tk" text-anchor="end" dy="3.5">2030</text>
<text transform="translate(275.17,355) rotate(-90)" class="tk" text-anchor="end" dy="3.5">2040</text>
<text x="160.2" y="388" class="tk" text-anchor="middle">Year</text>
<text transform="translate(5.6,287) rotate(-90)" class="lg" text-anchor="middle">Patient Count</text>
<text x="171.9" y="212.6" class="tt" text-anchor="middle">Metastases to Liver</text>
<rect x="292.8" y="209.4" width="5" height="5" fill="#000000"/>
<text x="298.6" y="215.1" class="lg">Melanoma</text>
<rect x="292.8" y="223.9" width="5" height="5" fill="#FFFF00"/>
<text x="298.6" y="229.6" class="lg">Bladder</text>
<rect x="292.8" y="238.4" width="5" height="5" fill="#00B050"/>
<text x="298.6" y="244.1" class="lg">Liver</text>
<rect x="292.8" y="252.9" width="5" height="5" fill="#00B0F0"/>
<text x="298.6" y="258.6" class="lg">Esophagus</text>
<rect x="292.8" y="267.4" width="5" height="5" fill="#F8CBAD"/>
<text x="298.6" y="273.1" class="lg">Uteri</text>
<rect x="292.8" y="281.9" width="5" height="5" fill="#ED7D31"/>
<text x="298.6" y="287.6" class="lg">Kidney</text>
<rect x="292.8" y="296.4" width="5" height="5" fill="#2E75B6"/>
<text x="298.6" y="302.1" class="lg">Stomach</text>
<rect x="292.8" y="310.9" width="5" height="5" fill="#FF66FF"/>
<text x="298.6" y="316.6" class="lg">Breast</text>
<rect x="292.8" y="325.4" width="5" height="5" fill="#00F5CC"/>
<text x="298.6" y="331.1" class="lg">Ovary</text>
<rect x="292.8" y="339.9" width="5" height="5" fill="#7030A0"/>
<text x="298.6" y="345.6" class="lg">Pancreas</text>
<rect x="292.8" y="354.4" width="5" height="5" fill="#B4C7E7"/>
<text x="298.6" y="360.1" class="lg">Prostate</text>
<rect x="292.8" y="368.9" width="5" height="5" fill="#2F5597"/>
<text x="298.6" y="374.6" class="lg">Colorectal</text>
<rect x="292.8" y="383.4" width="5" height="5" fill="#F2F2F2"/>
<text x="298.6" y="389.1" class="lg">Lung</text>
<line x1="422.3" y1="336.55" x2="612.79" y2="336.55" class="gl"/>
<line x1="422.3" y1="324.2" x2="612.79" y2="324.2" class="gl"/>
<line x1="422.3" y1="311.85" x2="612.79" y2="311.85" class="gl"/>
<line x1="422.3" y1="299.5" x2="612.79" y2="299.5" class="gl"/>
<line x1="422.3" y1="287.15" x2="612.79" y2="287.15" class="gl"/>
<line x1="422.3" y1="274.8" x2="612.79" y2="274.8" class="gl"/>
<line x1="422.3" y1="262.45" x2="612.79" y2="262.45" class="gl"/>
<line x1="422.3" y1="250.1" x2="612.79" y2="250.1" class="gl"/>
<line x1="422.3" y1="237.75" x2="612.79" y2="237.75" class="gl"/>
<line x1="422.3" y1="225.4" x2="612.79" y2="225.4" class="gl"/>
<text x="414.3" y="352.3" class="tk" text-anchor="end">0</text>
<text x="414.3" y="339.95" class="tk" text-anchor="end">200</text>
<text x="414.3" y="327.6" class="tk" text-anchor="end">400</text>
<text x="414.3" y="315.25" class="tk" text-anchor="end">600</text>
<text x="414.3" y="302.9" class="tk" text-anchor="end">800</text>
<text x="414.3" y="290.55" class="tk" text-anchor="end">1000</text>
<text x="414.3" y="278.2" class="tk" text-anchor="end">1200</text>
<text x="414.3" y="265.85" class="tk" text-anchor="end">1400</text>
<text x="414.3" y="253.5" class="tk" text-anchor="end">1600</text>
<text x="414.3" y="241.15" class="tk" text-anchor="end">1800</text>
<text x="414.3" y="228.8" class="tk" text-anchor="end">2000</text>
<path d="M422,349 L422,265.2 428,265.2 428,265.4 435,265.4 435,273.1 441,273.1 441,259.2 447,259.2 447,238.4 453,238.4 453,255.1 459,255.1 459,265 465,265 465,234.1 471,234.1 471,287.2 478,287.2 478,271.3 484,271.3 484,271.7 490,271.7 490,270.2 496,270.2 496,273.1 502,273.1 502,274.3 508,274.3 508,274.5 514,274.5 514,274.8 521,274.8 521,274.1 527,274.1 527,275.1 533,275.1 533,279.2 539,279.2 539,279.2 545,279.2 545,279.1 551,279.1 551,280.5 557,280.5 557,282.1 564,282.1 564,286.2 570,286.2 570,289 576,289 576,288.7 582,288.7 582,289 588,289 588,286.4 594,286.4 594,288.3 601,288.3 601,292.1 607,292.1 607,291.7 613,291.7 L613,349 Z" fill="#000000"/>
<path d="M422,349 L422,268 428,268 428,268 435,268 435,275.2 441,275.2 441,261.9 447,261.9 447,241.8 453,241.8 453,258.2 459,258.2 459,267.7 465,267.7 465,237.7 471,237.7 471,289.9 478,289.9 478,274 484,274 484,274.5 490,274.5 490,273.1 496,273.1 496,275.8 502,275.8 502,277.1 508,277.1 508,277.4 514,277.4 514,277.6 521,277.6 521,276.8 527,276.8 527,277.9 533,277.9 533,281.7 539,281.7 539,281.9 545,281.9 545,281.8 551,281.8 551,283.1 557,283.1 557,284.6 564,284.6 564,289 570,289 570,291.5 576,291.5 576,291.3 582,291.3 582,291.7 588,291.7 588,289 594,289 594,291 601,291 601,294.8 607,294.8 607,294.4 613,294.4 L613,349 Z" fill="#ED7D31"/>
<path d="M422,349 L422,269.8 428,269.8 428,270.1 435,270.1 435,277.7 441,277.7 441,265 447,265 447,242.8 453,242.8 453,261 459,261 459,269.1 465,269.1 465,241.5 471,241.5 471,291.6 478,291.6 478,276.1 484,276.1 484,276.7 490,276.7 490,275.8 496,275.8 496,278.2 502,278.2 502,278.4 508,278.4 508,278.9 514,278.9 514,279.2 521,279.2 521,278.6 527,278.6 527,279.6 533,279.6 533,283.7 539,283.7 539,284 545,284 545,283.9 551,283.9 551,284.9 557,284.9 557,286.6 564,286.6 564,290.7 570,290.7 570,293.1 576,293.1 576,292.8 582,292.8 582,293.4 588,293.4 588,290.7 594,290.7 594,292.8 601,292.8 601,296.1 607,296.1 607,295.8 613,295.8 L613,349 Z" fill="#FF66FF"/>
<path d="M422,349 L422,272.1 428,272.1 428,272.8 435,272.8 435,279.3 441,279.3 441,270.1 447,270.1 447,244.9 453,244.9 453,265.4 459,265.4 459,271.8 465,271.8 465,245.2 471,245.2 471,293.6 478,293.6 478,279.8 484,279.8 484,280.3 490,280.3 490,279.4 496,279.4 496,281.7 502,281.7 502,283 508,283 508,283.5 514,283.5 514,283.3 521,283.3 521,283 527,283 527,283.5 533,283.5 533,287.1 539,287.1 539,287.5 545,287.5 545,287.2 551,287.2 551,288.7 557,288.7 557,290.3 564,290.3 564,294.1 570,294.1 570,297.2 576,297.2 576,296.9 582,296.9 582,296.9 588,296.9 588,294.8 594,294.8 594,296.1 601,296.1 601,300.2 607,300.2 607,299.9 613,299.9 L613,349 Z" fill="#2F5597"/>
<path d="M422,349 L422,272.8 428,272.8 428,273.9 435,273.9 435,280.7 441,280.7 441,270.8 447,270.8 447,246.2 453,246.2 453,266.5 459,266.5 459,272.8 465,272.8 465,246.9 471,246.9 471,294.6 478,294.6 478,280.6 484,280.6 484,281.3 490,281.3 490,280.6 496,280.6 496,282.7 502,282.7 502,284 508,284 508,284.5 514,284.5 514,284.3 521,284.3 521,284 527,284 527,284.5 533,284.5 533,288.1 539,288.1 539,288.6 545,288.6 545,288.3 551,288.3 551,289.7 557,289.7 557,291.3 564,291.3 564,294.8 570,294.8 570,297.9 576,297.9 576,297.7 582,297.7 582,297.7 588,297.7 588,295.6 594,295.6 594,296.9 601,296.9 601,301 607,301 607,300.8 613,300.8 L613,349 Z" fill="#F2F2F2"/>
<rect x="422" y="348.7" width="191" height="1.3" fill="#E2E2E2"/>
<text transform="translate(425.37,355.5) rotate(-90)" class="tk" text-anchor="end" dy="3.5">2010</text>
<text transform="translate(486.82,355.5) rotate(-90)" class="tk" text-anchor="end" dy="3.5">2020</text>
<text transform="translate(548.27,355.5) rotate(-90)" class="tk" text-anchor="end" dy="3.5">2030</text>
<text transform="translate(609.72,355.5) rotate(-90)" class="tk" text-anchor="end" dy="3.5">2040</text>
<text x="517.5" y="388" class="tk" text-anchor="middle">Year</text>
<text transform="translate(387.4,287) rotate(-90)" class="lg" text-anchor="middle">Patient Count</text>
<text x="527.2" y="212.6" class="tt" text-anchor="middle">Metastases to Brain</text>
<rect x="625.8" y="234.1" width="5" height="5" fill="#000000"/>
<text x="632.2" y="239.8" class="lg">Melanoma</text>
<rect x="625.8" y="258.3" width="5" height="5" fill="#ED7D31"/>
<text x="632.2" y="264" class="lg">Kidney</text>
<rect x="625.8" y="282.5" width="5" height="5" fill="#FF66FF"/>
<text x="632.2" y="288.2" class="lg">Breast</text>
<rect x="625.8" y="306.7" width="5" height="5" fill="#2F5597"/>
<text x="632.2" y="312.4" class="lg">Colon</text>
<rect x="625.8" y="330.9" width="5" height="5" fill="#F2F2F2"/>
<text x="632.2" y="336.6" class="lg">Lung</text>
</svg>
</body></html>
